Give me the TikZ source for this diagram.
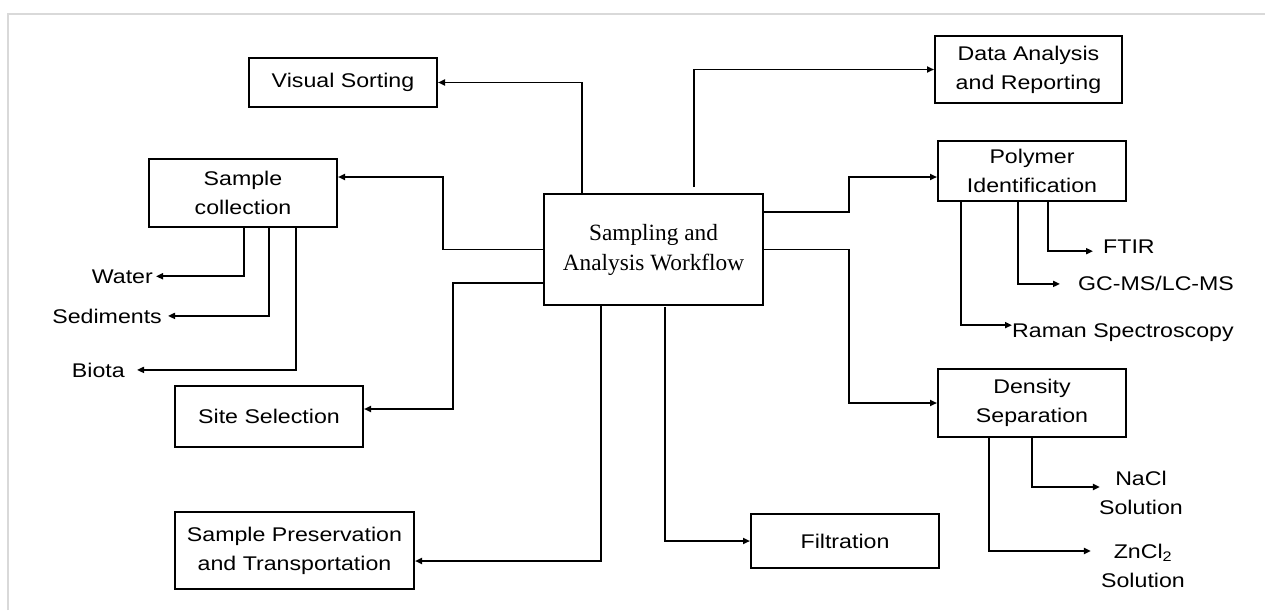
\documentclass[tikz,border=0pt]{standalone}
\usepackage{fontspec}
\setmainfont{Liberation Serif}
\newfontfamily\boxfont{Liberation Sans}[FakeStretch=1.17]
\usetikzlibrary{arrows.meta,calc}

\begin{document}
\begin{tikzpicture}[x=1pt,y=-1pt,
  stage/.style={draw, line width=2pt, inner sep=2pt, align=center,
    font=\boxfont\fontsize{19.8}{29}\selectfont, minimum width=188},
  leaf/.style={inner sep=0pt, align=center,
    font=\boxfont\fontsize{19.8}{29}\selectfont},
  link/.style={line width=1.8pt, -{Triangle[length=7pt,width=6pt]}},
  frame/.style={draw=black!15, line width=1.5pt}]

\useasboundingbox (0,0) rectangle (1265,610);

% light page frame
\draw[frame] (8,610) -- (8,14) -- (1265,14);

% process boxes
\node[stage, minimum height=49] (vis) at (343,82.5) {Visual Sorting};
\node[stage, minimum width=187, minimum height=67] (data) at (1028.5,69.5) {Data Analysis\\and Reporting};
\node[stage, minimum height=68] (samp) at (243,193) {Sample\\collection};
\node[stage, minimum height=60] (poly) at (1032,171) {Polymer\\Identification};
\node[stage, font=\fontsize{23.3}{30}\selectfont, minimum width=219, minimum height=111] (cent) at (653.5,249.5) {Sampling and\\Analysis Workflow};
\node[stage, minimum height=61] (site) at (269,416.5) {Site Selection};
\node[stage, minimum height=68] (dens) at (1032,403) {Density\\Separation};
\node[stage, minimum width=239, minimum height=77] (pres) at (294.5,550.5) {Sample Preservation\\and Transportation};
\node[stage, minimum height=54] (filt) at (845,541) {Filtration};

% free labels
\node[leaf, anchor=base east] (water) at (153,283) {Water};
\node[leaf, anchor=base east] (sed) at (162,323) {Sediments};
\node[leaf, anchor=base east] (biota) at (125,377) {Biota};
\node[leaf, anchor=base west] (ftir) at (1103,253) {FTIR};
\node[leaf, anchor=base west] (gcms) at (1078,290) {GC-MS/LC-MS};
\node[leaf, anchor=base west] (raman) at (1012,337) {Raman Spectroscopy};
\node[leaf] (nacl) at (1141,492.5) {NaCl\\Solution};
\node[leaf] (zncl) at (1143,566.3) {ZnCl\textsubscript{2}\\Solution};

% connectors from the central box
\draw[link] ([xshift=39]cent.north west) |- (vis.east);
\draw[link] ([xshift=151,yshift=6]cent.north west) |- (data.west);
\draw[link] ([yshift=-19]cent.north east) -- ++(85,0) |- ([yshift=-6]poly.west);
\draw[link] (cent.east) -- ++(85,0) |- (dens.west);
\draw[link] (cent.west) -- ++(-100,0) |- ([yshift=16]samp.east);
\draw[link] ([yshift=-90]cent.north west) -- ++(-90,0) |- ([yshift=7.5]site.east);
\draw[link] ([xshift=58]cent.south west) |- ([yshift=-10.5]pres.east);
\draw[link] ([xshift=122,yshift=-1]cent.south west) |- (filt.west);

% sample types
\draw[link] ([xshift=96]samp.south west) |- ([xshift=3]water.east);
\draw[link] ([xshift=121]samp.south west) |- ([xshift=6]sed.east);
\draw[link] ([xshift=148]samp.south west) |- ([xshift=12]biota.east);

% identification methods
\draw[link] ([xshift=111]poly.south west) |- ([xshift=-10,yshift=-5]ftir.west);
\draw[link] ([xshift=81]poly.south west) |- ([xshift=-18,yshift=-1]gcms.west);
\draw[link] ([xshift=24]poly.south west) |- ([yshift=7]raman.west);

% separation media
\draw[link] ([xshift=95]dens.south west) |- ([xshift=1,yshift=5.5]nacl.west);
\draw[link] ([xshift=52]dens.south west) |- ([xshift=-10,yshift=15.3]zncl.west);
\end{tikzpicture}
\end{document}
